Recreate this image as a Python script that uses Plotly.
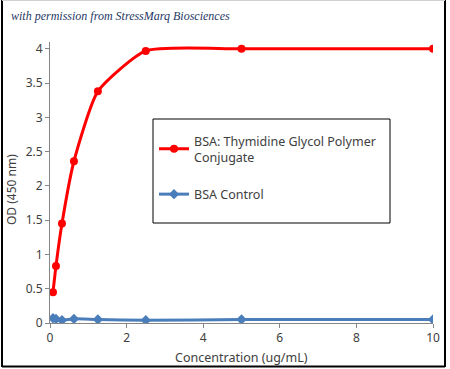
import plotly.graph_objects as go

conc = [0.078, 0.156, 0.3125, 0.625, 1.25, 2.5, 5, 10]
od_conjugate = [0.45, 0.83, 1.45, 2.36, 3.38, 3.97, 4.0, 4.0]
od_control = [0.07, 0.06, 0.04, 0.06, 0.05, 0.04, 0.05, 0.05]
name_conjugate = "BSA: Thymidine Glycol Polymer<br>Conjugate"
name_control = "BSA Control"
x_ticks = [0, 2, 4, 6, 8, 10]
y_ticks = [0, 0.5, 1, 1.5, 2, 2.5, 3, 3.5, 4]
y_tick_text = ["0", "0.5", "1", "1.5", "2", "2.5", "3", "3.5", "4"]

W, H = 450, 369
L, R, T, B = 50, 17, 42, 46
pw, ph = W - L - R, H - T - B

def px(x):
    return (x - L) / pw

def py(y):
    return (H - B - y) / ph

FONT = "Noto Sans, DejaVu Sans"

fig = go.Figure()
fig.add_trace(go.Scatter(
    x=conc, y=od_conjugate, name=name_conjugate, mode="lines+markers",
    line=dict(color="#FF0000", width=3, shape="spline", smoothing=0.55),
    marker=dict(symbol="circle", size=8, color="#FF0000"),
    legendgroup="a"))
fig.add_trace(go.Scatter(
    x=conc, y=od_control, name=name_control, mode="lines+markers",
    line=dict(color="#4A7EBB", width=3, shape="spline", smoothing=0.55),
    marker=dict(symbol="diamond", size=8, color="#4A7EBB"),
    legendgroup="b"))

axis_common = dict(showgrid=False, zeroline=False, showline=True, linecolor="#868686",
                   linewidth=1, ticks="outside", ticklen=4, tickcolor="#868686", automargin=False,
                   tickfont=dict(family=FONT, size=12, color="#404040"))
fig.update_xaxes(range=[0, 10], tickvals=x_ticks, ticktext=[str(v) for v in x_ticks], **axis_common)
fig.update_yaxes(range=[0, 4.1], tickvals=y_ticks, ticktext=y_tick_text, **axis_common)

fig.add_annotation(text="Concentration (ug/mL)", xref="paper", yref="paper",
                   x=px(241), y=py(357), xanchor="center", yanchor="middle", showarrow=False,
                   font=dict(family=FONT, size=12.5, color="#404040"))
fig.add_annotation(text="OD (450 nm)", xref="paper", yref="paper", textangle=-90,
                   x=px(11), y=py(190), xanchor="center", yanchor="middle", showarrow=False,
                   font=dict(family=FONT, size=12, color="#404040"))

# outer frame
fig.add_shape(type="line", xref="paper", yref="paper", x0=px(2), x1=px(2), y0=py(0), y1=py(367),
              line=dict(color="black", width=2))
fig.add_shape(type="line", xref="paper", yref="paper", x0=px(445), x1=px(445), y0=py(0), y1=py(367),
              line=dict(color="black", width=2))
fig.add_shape(type="line", xref="paper", yref="paper", x0=px(2), x1=px(445), y0=py(366.5), y1=py(366.5),
              line=dict(color="black", width=2))
fig.add_shape(type="line", xref="paper", yref="paper", x0=px(2), x1=px(445), y0=py(0.5), y1=py(0.5),
              line=dict(color="#D0D0D0", width=1))
# legend box
fig.add_shape(type="rect", xref="paper", yref="paper", x0=px(153), x1=px(390), y0=py(223), y1=py(119),
              line=dict(color="black", width=1), fillcolor="white", layer="below")

fig.add_annotation(text="<i>with permission from StressMarq Biosciences</i>", xref="paper", yref="paper",
                   x=px(9), y=py(16), xanchor="left", yanchor="middle", showarrow=False,
                   font=dict(family="Liberation Serif, DejaVu Serif", size=12, color="#1F3864"))

fig.update_layout(
    width=W, height=H, margin=dict(l=L, r=R, t=T, b=B, autoexpand=False),
    paper_bgcolor="white", plot_bgcolor="white",
    showlegend=True,
    legend=dict(x=px(154), y=py(126), xanchor="left", yanchor="top",
                bgcolor="rgba(0,0,0,0)", borderwidth=0, traceorder="grouped",
                tracegroupgap=18, itemwidth=30,
                font=dict(family=FONT, size=12.5, color="#404040")),
)

fig.write_html("out.html", config={"displayModeBar": False},
               post_script="document.body.style.margin='0';document.body.style.padding='0';")
